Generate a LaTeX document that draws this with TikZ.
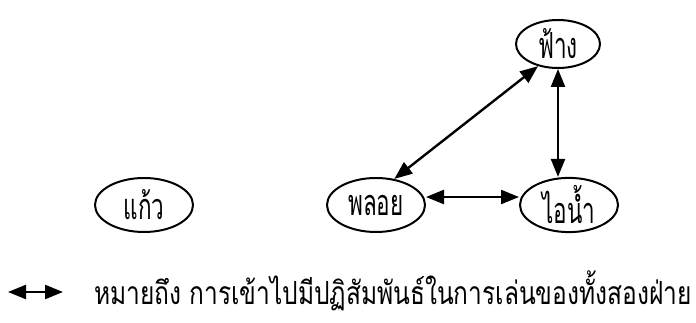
\documentclass[tikz,border=0pt]{standalone}
\usepackage{fontspec}
\newfontfamily\thaifont[Script=Thai]{Loma}
\usetikzlibrary{arrows.meta,shapes.geometric}
\newcommand{\tall}[1]{\scalebox{1}[1.6]{#1}}
\begin{document}
\begin{tikzpicture}[x=1pt,y=-1pt,
  ell/.style={draw,line width=2pt,ellipse,minimum width=#1, minimum height=54pt,inner sep=0pt,font=\thaifont\fontsize{22.5}{25}\selectfont},
  link/.style={line width=2.4pt,{Triangle[length=18pt,width=14pt]}-{Triangle[length=18pt,width=14pt]}}]
\useasboundingbox (0,0) rectangle (696,323);
\node[ell=84pt,minimum height=48pt] (fang) at (558,44) {\tall{ฟ้าง}};
\node[ell=98pt] (ploy) at (376,205) {\tall{พลอย}};
\node[ell=98pt] (ainam) at (569,205) {\tall{ไอน้ำ}};
\node[ell=98pt] (kaew) at (144,205) {\tall{แก้ว}};
\draw[link] (fang.228) -- (ploy.55);
\draw[link] (fang.south) -- (fang.south |- ainam.north);
\draw[link] (ploy.east |- 0,197) -- (ainam.west |- 0,197);
\coordinate (la) at (8,292);
\coordinate (lb) at (63,292);
\draw[link] (la) -- (lb);
\node[anchor=west,inner sep=0pt,font=\thaifont\fontsize{24.5}{26}\selectfont] (legend) at (94,291) {\scalebox{1}[1.3]{หมายถึง การเข้าไปมีปฏิสัมพันธ์ในการเล่นของทั้งสองฝ่าย}};
\end{tikzpicture}
\end{document}
